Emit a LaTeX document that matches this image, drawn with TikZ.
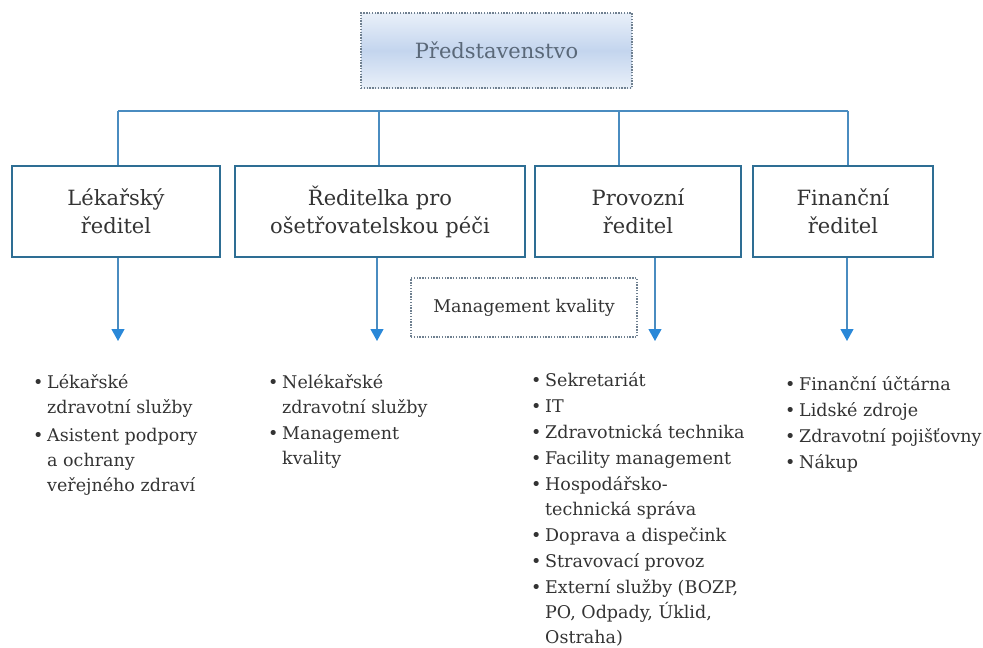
\documentclass[tikz,border=0pt]{standalone}
\usepackage{fontspec}
\setmainfont{DejaVu Serif}
\usepackage{tikz}
\usetikzlibrary{arrows.meta}
\usepackage{xcolor}
\definecolor{boxblue}{HTML}{2E6E94}
\definecolor{lineblue}{HTML}{4A8CC0}
\definecolor{tipblue}{HTML}{2A88D8}
\definecolor{dotgray}{HTML}{6F8090}
\definecolor{txtgray}{HTML}{333333}
\definecolor{boardtxt}{HTML}{5A6878}
\definecolor{boardmid}{HTML}{C4D5EE}
\definecolor{boardedge}{HTML}{E9F0F9}
\newcommand{\bul}{\makebox[14pt][l]{\strut\textbullet}}
\newcommand{\ind}{\hspace*{14pt}}
\tikzset{
  headbox/.style={draw=boxblue,line width=1.8pt,minimum height=91pt,inner sep=0pt,
    align=center,text=txtgray,font=\fontsize{21}{28}\selectfont},
  dotbox/.style={draw=dotgray,line width=1.3pt,dash pattern=on 1.4pt off 1.4pt,
    inner sep=0pt,text=txtgray},
  itemlist/.style={anchor=north west,inner sep=0pt,align=left,text=txtgray,
    font=\fontsize{17.5}{25}\selectfont},
  bus/.style={draw=lineblue,line width=1.5pt},
  down/.style={draw=lineblue,line width=1.2pt,
    -{Triangle[length=12pt,width=13pt,color=tipblue]}}
}
\begin{document}
\begin{tikzpicture}[x=1pt,y=-1pt]
  \useasboundingbox (0,0) rectangle (983,648);
  \node[dotbox,minimum width=271pt,minimum height=75pt,top color=boardedge,bottom color=boardedge,
    middle color=boardmid,text=boardtxt,font=\fontsize{21}{28}\selectfont] (board) at (496.5,50.5) {Představenstvo};
  \node[headbox,minimum width=208pt] (lek) at (116,211.5) {Lékařský\\ředitel};
  \node[headbox,minimum width=290pt] (oset) at (380,211.5) {Ředitelka pro\\ošetřovatelskou péči};
  \node[headbox,minimum width=206pt] (prov) at (638,211.5) {Provozní\\ředitel};
  \node[headbox,minimum width=180pt] (fin) at (843,211.5) {Finanční\\ředitel};
  \node[dotbox,minimum width=226pt,minimum height=59pt,font=\fontsize{17.5}{25}\selectfont] (qm) at (524,307.5) {Management kvality};
  \coordinate (busL) at (118,111);
  \coordinate (busO) at (379,111);
  \coordinate (busP) at (619,111);
  \coordinate (busR) at (848,111);
  \draw[bus] (busL) -- (busR);
  \draw[bus] (busL) -- (busL |- lek.north);
  \draw[bus] (busO) -- (busO |- oset.north);
  \draw[bus] (busP) -- (busP |- prov.north);
  \draw[bus] (busR) -- (busR |- fin.north);
  \coordinate (tipL) at (118,341);
  \coordinate (tipO) at (377,341);
  \coordinate (tipP) at (655,341);
  \coordinate (tipF) at (847,341);
  \draw[down] (lek.south -| tipL) -- (tipL);
  \draw[down] (oset.south -| tipO) -- (tipO);
  \draw[down] (prov.south -| tipP) -- (tipP);
  \draw[down] (fin.south -| tipF) -- (tipF);
  \node[itemlist] (lekList) at (33,370.5) {\bul Lékařské\\\ind zdravotní služby\\[3pt]
    \bul Asistent podpory\\\ind a ochrany\\\ind veřejného zdraví};
  \node[itemlist] (osetList) at (268,370.5) {\bul Nelékařské\\\ind zdravotní služby\\[1pt]
    \bul Management\\\ind kvality};
  \node[itemlist] (provList) at (531,368.5) {\bul Sekretariát\\[1pt]\bul IT\\[1pt]
    \bul Zdravotnická technika\\[1pt]\bul Facility management\\[1pt]
    \bul Hospodářsko-\\\ind technická správa\\[1pt]\bul Doprava a dispečink\\[1pt]
    \bul Stravovací provoz\\[1pt]\bul Externí služby (BOZP,\\\ind PO, Odpady, Úklid,\\\ind Ostraha)};
  \node[itemlist] (finList) at (785,372.5) {\bul Finanční účtárna\\[1pt]\bul Lidské zdroje\\[1pt]
    \bul Zdravotní pojišťovny\\[1pt]\bul Nákup};
\end{tikzpicture}
\end{document}
